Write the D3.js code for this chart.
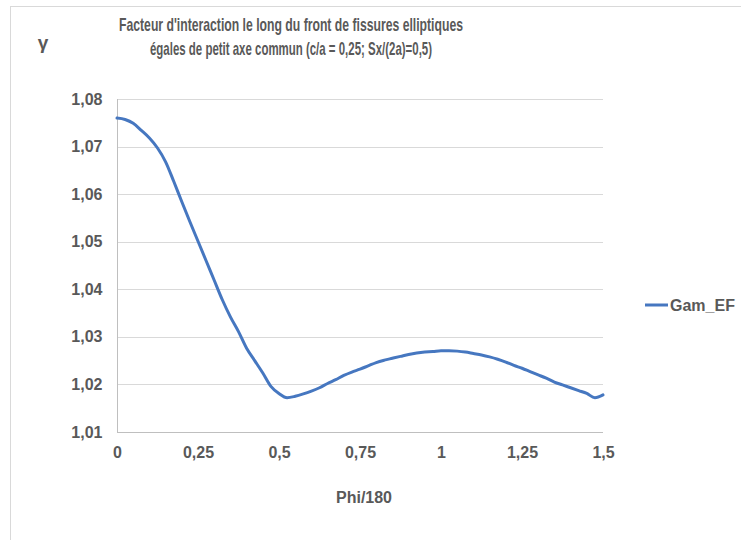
<!DOCTYPE html>
<html>
<head>
<meta charset="utf-8">
<script src="https://cdn.jsdelivr.net/npm/d3@7"></script>
<style>
  html, body { margin: 0; padding: 0; background: #fff; }
  svg { display: block; }
  text { font-family: "Liberation Sans", Arial, sans-serif; font-weight: bold; fill: #595959; }
</style>
</head>
<body>
<svg id="chart" width="741" height="540"></svg>
<script>
// Interaction factor along the crack front, Phi/180 from 0 to 1.5
const phi = [
  0, 0.025, 0.05, 0.075, 0.1, 0.125, 0.15, 0.175, 0.2, 0.225,
  0.25, 0.275, 0.3, 0.325, 0.35, 0.375, 0.4, 0.425, 0.45, 0.475,
  0.5, 0.525, 0.55, 0.575, 0.6, 0.625, 0.65, 0.675, 0.7, 0.725,
  0.75, 0.775, 0.8, 0.825, 0.85, 0.875, 0.9, 0.925, 0.95, 0.975,
  1.0, 1.025, 1.05, 1.075, 1.1, 1.125, 1.15, 1.175, 1.2, 1.225,
  1.25, 1.275, 1.3, 1.325, 1.35, 1.375, 1.4, 1.425, 1.45, 1.475, 1.5
];
const gamEF = [
  1.0760, 1.0757, 1.0749, 1.0734, 1.0718, 1.0697, 1.0668, 1.0627, 1.0584, 1.0542,
  1.0501, 1.0460, 1.0419, 1.0378, 1.0342, 1.0311, 1.0276, 1.0250, 1.0224, 1.0196,
  1.0181, 1.0172, 1.0175, 1.0180, 1.0186, 1.0193, 1.0202, 1.0210, 1.0219, 1.0226,
  1.0232, 1.0239, 1.0246, 1.0251, 1.0255, 1.0259, 1.0263, 1.0266, 1.0268, 1.0269,
  1.0271, 1.0271, 1.0270, 1.0268, 1.0265, 1.0262, 1.0258, 1.0253, 1.0247, 1.0240,
  1.0234, 1.0227, 1.0220, 1.0213, 1.0205, 1.0199, 1.0193, 1.0187, 1.0181, 1.0172, 1.0178
];
const xTicks = [0, 0.25, 0.5, 0.75, 1, 1.25, 1.5];
const yTicks = [1.01, 1.02, 1.03, 1.04, 1.05, 1.06, 1.07, 1.08];
const seriesName = "Gam_EF";
const titleLines = [
  "Facteur d'interaction le long du front de fissures elliptiques",
  "égales de petit axe commun (c/a = 0,25; Sx/(2a)=0,5)"
];

const svg = d3.select("#chart");
const plot = { left: 117, right: 603, top: 99, bottom: 432 };

const x = d3.scaleLinear().domain([0, 1.5]).range([plot.left, plot.right]);
const y = d3.scaleLinear().domain([1.01, 1.08]).range([plot.bottom, plot.top]);
const fmt = v => String(+v.toFixed(2)).replace(".", ",");

// chart frame
svg.append("rect")
  .attr("x", 10.5).attr("y", 6.5).attr("width", 800).attr("height", 600)
  .attr("fill", "none").attr("stroke", "#d9d9d9");

// horizontal gridlines
svg.append("g").selectAll("line").data(yTicks.slice(1)).join("line")
  .attr("x1", plot.left).attr("x2", plot.right)
  .attr("y1", d => Math.round(y(d)) + 0.5).attr("y2", d => Math.round(y(d)) + 0.5)
  .attr("stroke", "#d9d9d9").attr("stroke-width", 1);

// y axis
const yAxis = svg.append("g")
  .attr("transform", `translate(${plot.left + 0.5},0)`)
  .call(d3.axisLeft(y).tickValues(yTicks).tickFormat(fmt).tickSize(0).tickPadding(15));
yAxis.select(".domain").attr("stroke", "#bfbfbf").attr("d", `M0,${plot.top}V${plot.bottom + 0.5}`);
yAxis.selectAll("text").attr("font-size", 16).attr("font-family", null).attr("fill", "#595959");

// x axis
const xAxis = svg.append("g")
  .attr("transform", `translate(0,${plot.bottom + 0.5})`)
  .call(d3.axisBottom(x).tickValues(xTicks).tickFormat(fmt).tickSize(0).tickPadding(14));
xAxis.select(".domain").attr("stroke", "#bfbfbf").attr("d", `M${plot.left},0H${plot.right}`);
xAxis.selectAll("text").attr("font-size", 16).attr("font-family", null).attr("fill", "#595959");

// data line
const line = d3.line().x((d, i) => x(phi[i])).y(d => y(d)).curve(d3.curveMonotoneX);
svg.append("path")
  .datum(gamEF)
  .attr("d", line)
  .attr("fill", "none")
  .attr("stroke", "#4677c0")
  .attr("stroke-width", 3)
  .attr("stroke-linejoin", "round")
  .attr("stroke-linecap", "round");

// title
const title = svg.append("g");
title.append("text").attr("x", 291).attr("y", 31).attr("text-anchor", "middle")
  .attr("font-size", 19).attr("textLength", 344).attr("lengthAdjust", "spacingAndGlyphs")
  .text(titleLines[0]);
title.append("text").attr("x", 291).attr("y", 55).attr("text-anchor", "middle")
  .attr("font-size", 19).attr("textLength", 282).attr("lengthAdjust", "spacingAndGlyphs")
  .text(titleLines[1]);

// gamma symbol (y quantity)
svg.append("text").attr("x", 43).attr("y", 49).attr("text-anchor", "middle")
  .attr("font-size", 19).text("γ");

// x axis title
svg.append("text").attr("x", 364).attr("y", 503).attr("text-anchor", "middle")
  .attr("font-size", 16).text("Phi/180");

// legend
const legend = svg.append("g");
legend.append("line").attr("x1", 645).attr("x2", 668).attr("y1", 305).attr("y2", 305)
  .attr("stroke", "#4677c0").attr("stroke-width", 3);
legend.append("text").attr("x", 670).attr("y", 311).attr("font-size", 16).text(seriesName);
</script>
</body>
</html>
